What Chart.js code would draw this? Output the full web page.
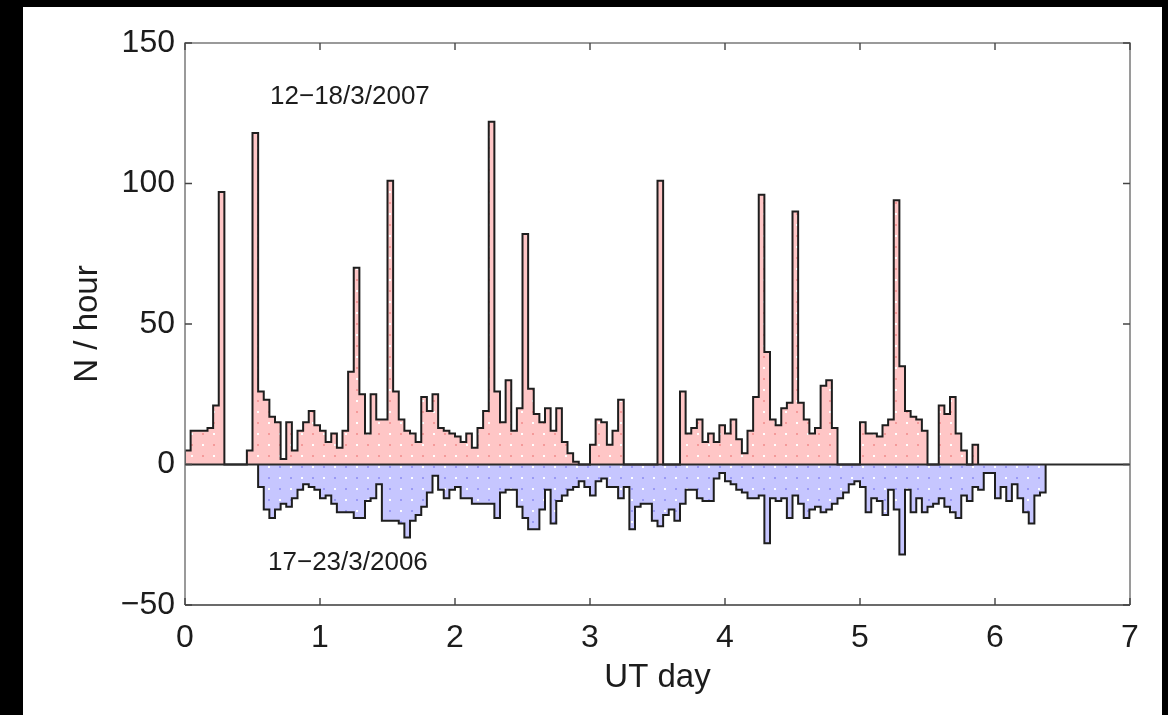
<!DOCTYPE html>
<html>
<head>
<meta charset="utf-8">
<script src="https://cdn.jsdelivr.net/npm/chart.js@4"></script>
<style>
  html, body { margin: 0; padding: 0; background: #000; }
  canvas { display: block; }
</style>
</head>
<body>
<canvas id="chart" width="1168" height="715"></canvas>
<script>
// Hourly event counts, one value per UT hour.
const HOURS_PER_DAY = 24;

// 12–18 March 2007, starting at hour 0 (one line per UT day)
const counts2007 = [
  5, 12, 12, 12, 13, 21, 97, 0, 0, 0, 0, 5, 118, 26, 23, 17, 15, 2, 15, 5, 12, 15, 19, 14,
  12, 8, 11, 6, 12, 33, 70, 25, 11, 25, 16, 16, 101, 26, 16, 12, 11, 8, 24, 19, 25, 13, 12, 11,
  10, 8, 11, 6, 13, 19, 122, 26, 15, 30, 12, 20, 82, 27, 18, 15, 20, 12, 20, 8, 4, 1, 0, 0,
  7, 16, 15, 7, 12, 23, 0, 0, 0, 0, 0, 0, 101, 0, 0, 0, 26, 11, 13, 16, 8, 11, 8, 14,
  11, 16, 9, 4, 12, 24, 96, 40, 16, 14, 20, 22, 90, 22, 16, 11, 13, 28, 30, 13, 0, 0, 0, 0,
  15, 11, 11, 10, 14, 16, 94, 35, 19, 17, 16, 12, 0, 0, 21, 18, 24, 11, 5, 0, 7
];

// 17–23 March 2006, first hour with data
const start2006 = 13;
// 17–23 March 2006 counts (drawn below the zero line)
const counts2006 = [
  8, 16, 19, 16, 14, 15, 12, 9, 7, 8, 9,
  12, 11, 14, 17, 17, 17, 19, 19, 13, 12, 7, 20, 20, 20, 21, 26, 20, 18, 15, 10, 4, 9, 12, 9,
  8, 12, 12, 14, 14, 14, 14, 19, 10, 9, 9, 15, 19, 23, 23, 16, 9, 21, 13, 11, 9, 8, 6, 8,
  11, 6, 5, 8, 8, 12, 8, 23, 15, 14, 14, 20, 22, 18, 16, 20, 14, 9, 9, 12, 13, 13, 5, 3,
  6, 7, 9, 10, 12, 12, 11, 28, 12, 13, 12, 19, 11, 14, 19, 16, 15, 17, 16, 14, 12, 10, 7, 6,
  8, 17, 12, 13, 18, 9, 16, 32, 9, 17, 12, 17, 15, 14, 12, 15, 17, 19, 11, 13, 8, 9, 3, 3,
  12, 8, 13, 7, 12, 17, 21, 11, 10
];

const xTicks = [0, 1, 2, 3, 4, 5, 6, 7];
const yTicks = [-50, 0, 50, 100, 150];

const label2007 = '12\u221218/3/2007';
const label2006 = '17\u221223/3/2006';
const xTitle = 'UT day';
const yTitle = 'N / hour';

// Where the two period labels sit, in axis units (day, N/hour)
const label2007At = [0.63, 131];
const label2006At = [0.615, -35];

const FONT = "'Liberation Sans', Arial, Helvetica, sans-serif";
const INK = '#1c1c1c';

const canvas = document.getElementById('chart');
const ctx = canvas.getContext('2d');

function dotPattern(base, accent) {
  const c = document.createElement('canvas');
  c.width = 22; c.height = 22;
  const g = c.getContext('2d');
  g.fillStyle = base; g.fillRect(0, 0, 22, 22);
  g.fillStyle = '#ffffff';
  g.fillRect(4, 4, 2, 2); g.fillRect(15, 15, 2, 2);
  g.fillStyle = accent;
  g.fillRect(15, 4, 2, 2); g.fillRect(4, 15, 2, 2);
  return ctx.createPattern(c, 'repeat');
}

// Build step-histogram outlines: each point holds its value for the following hour.
function stepPoints(values, startHour, sign) {
  const pts = [{ x: startHour / HOURS_PER_DAY, y: 0 }];
  values.forEach((v, i) => pts.push({ x: (startHour + i) / HOURS_PER_DAY, y: sign * v }));
  pts.push({ x: (startHour + values.length) / HOURS_PER_DAY, y: 0 });
  return pts;
}

const minus = v => (v < 0 ? '\u2212' + Math.abs(v) : String(v));

const framePlugin = {
  id: 'framePlugin',
  beforeDraw(chart) {
    const c = chart.ctx;
    c.save();
    c.fillStyle = '#000';
    c.fillRect(0, 0, chart.width, chart.height);
    c.fillStyle = '#fff';
    c.fillRect(23, 7, 1139, chart.height - 7);
    c.restore();
  },
  afterDatasetsDraw(chart) {
    const c = chart.ctx;
    const a = chart.chartArea;
    const { x, y } = chart.scales;
    c.save();
    // zero line
    const y0 = y.getPixelForValue(0);
    c.strokeStyle = '#2a2a2a';
    c.lineWidth = 1.8;
    c.beginPath(); c.moveTo(a.left, y0); c.lineTo(a.right, y0); c.stroke();

    // axes box
    c.strokeStyle = '#7a7a7a';
    c.lineWidth = 1.5;
    c.beginPath();
    c.moveTo(a.left, a.bottom); c.lineTo(a.left, a.top); c.lineTo(a.right, a.top); c.lineTo(a.right, a.bottom);
    c.stroke();
    c.strokeStyle = '#3a3a3a';
    c.beginPath(); c.moveTo(a.left, a.bottom); c.lineTo(a.right, a.bottom); c.stroke();

    // inward tick marks
    const tl = 7;
    c.strokeStyle = '#444';
    c.lineWidth = 1.4;
    c.beginPath();
    xTicks.forEach(v => {
      const px = x.getPixelForValue(v);
      c.moveTo(px, a.bottom); c.lineTo(px, a.bottom - tl);
      c.moveTo(px, a.top); c.lineTo(px, a.top + tl);
    });
    yTicks.forEach(v => {
      const py = y.getPixelForValue(v);
      c.moveTo(a.left, py); c.lineTo(a.left + tl, py);
      c.moveTo(a.right, py); c.lineTo(a.right - tl, py);
    });
    c.stroke();

    // period labels
    c.fillStyle = INK;
    c.font = '26px ' + FONT;
    c.textAlign = 'left';
    c.textBaseline = 'middle';
    c.fillText(label2007, x.getPixelForValue(label2007At[0]), y.getPixelForValue(label2007At[1]));
    c.fillText(label2006, x.getPixelForValue(label2006At[0]), y.getPixelForValue(label2006At[1]));
    c.restore();
  }
};

new Chart(ctx, {
  type: 'line',
  data: {
    datasets: [
      {
        label: label2007,
        data: stepPoints(counts2007, 0, 1),
        stepped: true,
        fill: 'origin',
        backgroundColor: dotPattern('#ffc6c6', '#f59a9a'),
        borderColor: '#1e1e1e',
        borderWidth: 2,
        pointRadius: 0,
        tension: 0
      },
      {
        label: label2006,
        data: stepPoints(counts2006, start2006, -1),
        stepped: true,
        fill: 'origin',
        backgroundColor: dotPattern('#c6c6ff', '#9a9af5'),
        borderColor: '#1e1e1e',
        borderWidth: 2,
        pointRadius: 0,
        tension: 0
      }
    ]
  },
  options: {
    responsive: false,
    animation: false,
    devicePixelRatio: 1,
    layout: { padding: { left: 0, top: 43, right: 38, bottom: 0 } },
    plugins: { legend: { display: false }, tooltip: { enabled: false } },
    scales: {
      x: {
        type: 'linear',
        min: 0,
        max: 7,
        grid: { display: false },
        border: { display: false },
        afterBuildTicks: s => { s.ticks = xTicks.map(v => ({ value: v })); },
        afterFit: s => { s.height = 110; },
        ticks: {
          color: INK,
          font: { family: FONT, size: 32 },
          padding: 6,
          maxRotation: 0,
          callback: v => minus(v)
        },
        title: {
          display: true,
          text: xTitle,
          color: INK,
          font: { family: FONT, size: 33 },
          padding: { top: 0, bottom: 17 }
        }
      },
      y: {
        min: -50,
        max: 150,
        grid: { display: false },
        border: { display: false },
        afterBuildTicks: s => { s.ticks = yTicks.map(v => ({ value: v })); },
        afterFit: s => { s.width = 185; },
        ticks: {
          color: INK,
          font: { family: FONT, size: 32 },
          padding: 2,
          callback: v => minus(v)
        },
        title: {
          display: true,
          text: yTitle,
          color: INK,
          font: { family: FONT, size: 33 },
          padding: { top: 68, bottom: 0 }
        }
      }
    }
  },
  plugins: [framePlugin]
});
</script>
</body>
</html>
